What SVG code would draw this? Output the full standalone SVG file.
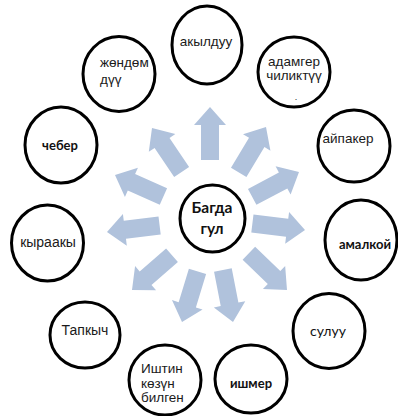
<svg xmlns="http://www.w3.org/2000/svg" width="398" height="416" viewBox="0 0 398 416">
<style>
.c{fill:#fff;stroke:#000;stroke-width:3}
.a{fill:#b0c2dc}
.t{font-family:"Liberation Sans",Arial,sans-serif;font-size:13.5px;fill:#1a1a1a;text-anchor:middle}
.b{font-family:Lato,"Open Sans",sans-serif;font-weight:bold;font-size:13px;fill:#111;text-anchor:middle}
.l{font-family:Lato,"Open Sans",sans-serif;font-size:14px;fill:#111;text-anchor:middle}
</style>
<defs>
<polygon id="arr" points="0,0 -18,-16 -18,-9 -53,-9 -53,9 -18,9 -18,16"/>
</defs>
<rect width="398" height="416" fill="#fff"/>
<g id="connectors">
<use href="#arr" class="a" transform="translate(210,107) rotate(-90)"/>
<use href="#arr" class="a" transform="translate(266,127) rotate(-59)"/>
<use href="#arr" class="a" transform="translate(299,172) rotate(-28)"/>
<use href="#arr" class="a" transform="translate(305,230) rotate(7)"/>
<use href="#arr" class="a" transform="translate(287,290) rotate(44)"/>
<use href="#arr" class="a" transform="translate(233,322) rotate(79)"/>
<use href="#arr" class="a" transform="translate(182,322) rotate(107)"/>
<use href="#arr" class="a" transform="translate(132,290) rotate(139)"/>
<use href="#arr" class="a" transform="translate(107,232) rotate(173)"/>
<use href="#arr" class="a" transform="translate(115,175) rotate(-156)"/>
<use href="#arr" class="a" transform="translate(152,128) rotate(-124)"/>
</g>
<g id="center">
<ellipse class="c" cx="212.5" cy="218.5" rx="32.5" ry="33.5"/>
<text class="b" x="212" y="213" style="font-size:15.5px">Багда</text>
<text class="b" x="212" y="234" style="font-size:15.5px">гул</text>
</g>
<g id="n1">
<ellipse class="c" cx="207" cy="45" rx="35" ry="39"/>
<text class="t" x="206" y="46">акылдуу</text>
</g>
<g id="n2">
<ellipse class="c" cx="294" cy="72" rx="36" ry="35"/>
<text class="t" x="294" y="66">адамгер</text>
<text class="t" x="294" y="80">чиликтүү</text>
<text class="t" x="296" y="100" style="font-size:9px">.</text>
</g>
<g id="n3">
<ellipse class="c" cx="354" cy="146" rx="36" ry="36"/>
<text class="t" x="348" y="143">айпакер</text>
</g>
<g id="n4">
<ellipse class="c" cx="361" cy="240" rx="36" ry="40"/>
<text class="b" x="365" y="249">амалкой</text>
</g>
<g id="n5">
<ellipse class="c" cx="329" cy="331" rx="36" ry="37.5"/>
<text class="l" x="328" y="336">сулуу</text>
</g>
<g id="n6">
<ellipse class="c" cx="251" cy="379" rx="36" ry="34"/>
<text class="b" x="251" y="388">ишмер</text>
</g>
<g id="n7">
<ellipse class="c" cx="165" cy="380" rx="36" ry="35"/>
<text class="t" x="141" y="373" style="text-anchor:start">Иштин</text>
<text class="t" x="141" y="388" style="text-anchor:start">көзүн</text>
<text class="t" x="141" y="402" style="text-anchor:start">билген</text>
</g>
<g id="n8">
<ellipse class="c" cx="85" cy="335" rx="35" ry="33"/>
<text class="t" x="85" y="335" style="font-size:14px">Тапкыч</text>
</g>
<g id="n9">
<ellipse class="c" cx="47.5" cy="243" rx="36" ry="38"/>
<text class="t" x="48" y="247" style="font-size:14px">кыраакы</text>
</g>
<g id="n10">
<ellipse class="c" cx="61" cy="145" rx="36" ry="38"/>
<text class="b" x="60" y="150">чебер</text>
</g>
<g id="n11">
<ellipse class="c" cx="119" cy="74" rx="36" ry="37.5"/>
<text class="t" x="100" y="67" style="text-anchor:start">жөндөм</text>
<text class="t" x="100" y="84" style="text-anchor:start">дүү</text>
</g>
</svg>
